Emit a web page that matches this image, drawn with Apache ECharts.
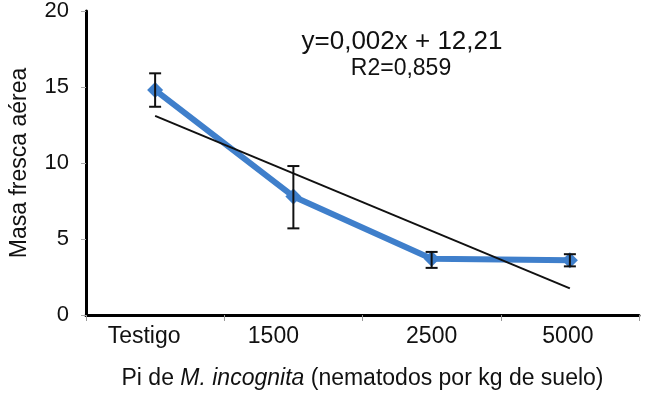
<!DOCTYPE html>
<html>
<head>
<meta charset="utf-8">
<script src="https://cdn.jsdelivr.net/npm/echarts@6/dist/echarts.min.js"></script>
<style>
  html, body { margin: 0; padding: 0; background: #fff; }
  #chart { width: 650px; height: 395px; }
</style>
</head>
<body>
<div id="chart"></div>
<script>
// datos
var categorias = ['Testigo', '1500', '2500', '5000'];
var masaFresca = [14.8, 7.8, 3.7, 3.6];
var errorAlto = [15.9, 9.8, 4.15, 4.0];
var errorBajo = [13.7, 5.7, 3.1, 3.2];
var tendencia = [13.1, null, null, 1.75];
var yTicks = [0, 5, 10, 15, 20];

var chart = echarts.init(document.getElementById('chart'));

var barrasError = [];
for (var i = 0; i < categorias.length; i++) {
  barrasError.push([i, errorBajo[i], errorAlto[i]]);
}

// las etiquetas del original no quedan centradas bajo cada punto
var estiloEtiqueta = ['t0', 't1', 't2', 't3'];

var option = {
  backgroundColor: '#ffffff',
  animation: false,
  textStyle: { fontFamily: 'Liberation Sans' },
  grid: { left: 82, right: 11, top: 8, bottom: 78 },
  xAxis: {
    type: 'category',
    data: categorias,
    boundaryGap: true,
    axisLine: { lineStyle: { color: '#000', width: 3 } },
    axisTick: { show: true, length: 6, lineStyle: { color: '#999' } },
    axisLabel: {
      color: '#111', fontSize: 23, margin: 10,
      interval: 0,
      hideOverlap: false,
      formatter: function (v, idx) {
        return '{' + estiloEtiqueta[idx] + '|' + v + '}';
      },
      rich: {
        t0: { fontSize: 23, color: '#111', padding: [0, 22, 0, 0] },
        t1: { fontSize: 23, color: '#111', padding: [0, 40, 0, 0] },
        t2: { fontSize: 23, color: '#111' },
        t3: { fontSize: 23, color: '#111', padding: [0, 4, 0, 0] }
      }
    },
    name: 'Pi de {i|M. incognita} (nematodos por kg de suelo)',
    nameLocation: 'middle',
    nameGap: 52,
    nameTextStyle: {
      color: '#111', fontSize: 23,
      rich: { i: { fontStyle: 'italic', fontSize: 23, color: '#111' } }
    }
  },
  yAxis: {
    type: 'value',
    min: yTicks[0],
    max: yTicks[yTicks.length - 1],
    interval: 5,
    splitLine: { show: false },
    axisLine: { show: true, lineStyle: { color: '#000', width: 3 } },
    axisTick: { show: true, length: 5, lineStyle: { color: '#aaa' } },
    axisLabel: { color: '#111', fontSize: 22, margin: 17 },
    name: 'Masa fresca aérea',
    nameLocation: 'middle',
    nameGap: 55,
    nameTextStyle: { color: '#111', fontSize: 23 }
  },
  series: [
    {
      name: 'tendencia',
      type: 'line',
      data: tendencia,
      connectNulls: true,
      symbol: 'none',
      lineStyle: { color: '#111', width: 2 },
      z: 3
    },
    {
      name: 'masa',
      type: 'line',
      data: masaFresca,
      symbol: 'diamond',
      symbolSize: 16,
      itemStyle: { color: '#3f7fcb' },
      lineStyle: { color: '#3f7fcb', width: 6 },
      z: 2
    },
    {
      name: 'error',
      type: 'custom',
      data: barrasError,
      z: 4,
      renderItem: function (params, api) {
        var x = api.value(0);
        var p1 = api.coord([x, api.value(1)]);
        var p2 = api.coord([x, api.value(2)]);
        var w = 6;
        var st = { stroke: '#111', lineWidth: 2 };
        return {
          type: 'group',
          children: [
            { type: 'line', shape: { x1: p1[0], y1: p1[1], x2: p2[0], y2: p2[1] }, style: st },
            { type: 'line', shape: { x1: p1[0] - w, y1: p1[1], x2: p1[0] + w, y2: p1[1] }, style: st },
            { type: 'line', shape: { x1: p2[0] - w, y1: p2[1], x2: p2[0] + w, y2: p2[1] }, style: st }
          ]
        };
      }
    }
  ],
  graphic: [
    {
      type: 'text', x: 402, y: 42,
      style: {
        text: 'y=0,002x + 12,21', fontSize: 26, fill: '#111', fontFamily: 'Liberation Sans',
        textAlign: 'center', textVerticalAlign: 'middle'
      }
    },
    {
      type: 'text', x: 401, y: 69,
      style: {
        text: 'R2=0,859', fontSize: 23, fill: '#111', fontFamily: 'Liberation Sans',
        textAlign: 'center', textVerticalAlign: 'middle'
      }
    }
  ]
};

chart.setOption(option);
</script>
</body>
</html>
